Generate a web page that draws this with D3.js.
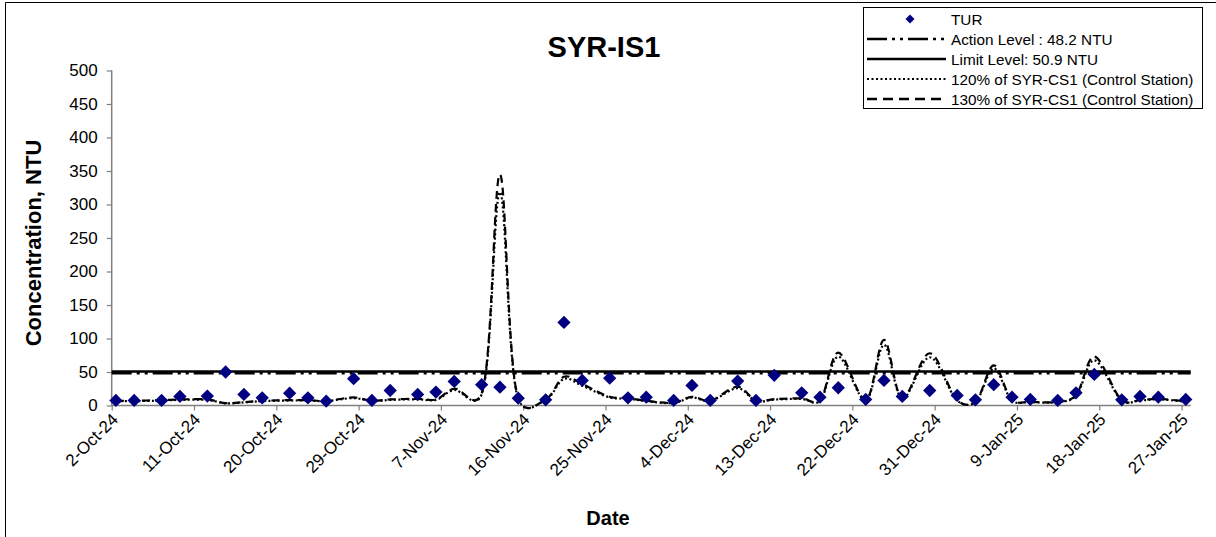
<!DOCTYPE html>
<html><head><meta charset="utf-8">
<script src="https://cdn.jsdelivr.net/npm/d3@7"></script>
<style>body{margin:0;background:#fff}svg{display:block}text{font-family:"Liberation Sans",Arial,sans-serif}</style>
</head><body><svg id="c" width="1216" height="537"></svg>
<script>
// ---- data ----
const sampleDates = [
 "2024-10-02","2024-10-04","2024-10-07","2024-10-09","2024-10-12","2024-10-14","2024-10-16","2024-10-18","2024-10-21","2024-10-23","2024-10-25","2024-10-28","2024-10-30",
 "2024-11-01","2024-11-04","2024-11-06","2024-11-08","2024-11-11","2024-11-13","2024-11-15","2024-11-18","2024-11-20","2024-11-22","2024-11-25","2024-11-27","2024-11-29",
 "2024-12-02","2024-12-04","2024-12-06","2024-12-09","2024-12-11","2024-12-13","2024-12-16","2024-12-18","2024-12-20","2024-12-23","2024-12-25","2024-12-27","2024-12-30",
 "2025-01-02","2025-01-04","2025-01-06","2025-01-08","2025-01-10","2025-01-13","2025-01-15","2025-01-17","2025-01-20","2025-01-22","2025-01-24","2025-01-27"];
const sampleTime = "11:00";
const turValues = [
 7.5,7.5,7.5,13.5,14,50,16.5,11.5,18.4,11.5,6.4,40,7.5,
 22.4,16.5,20,36,31,27.4,11,8.5,124,37.4,40.8,11.5,12.4,
 7.5,30,7.5,36.4,7.5,45,19,12.4,26.5,9,37.4,13.5,22.4,
 15,8.5,31,12.4,9,7.5,19,46.4,8.5,13.5,12.4,9];
const cs120Values = [
 6.5,6.5,7.4,8.3,8.3,3.2,4.6,6.5,7.4,7.4,6.5,11.1,6.5,
 8.3,9.2,8.3,23.1,16.6,318.5,10.2,8.3,39.7,29.5,12,10.2,6.5,
 3.7,12,6.5,25.8,6.5,8.8,9.7,6.9,72.9,7.4,90.5,10.2,72,
 7.4,5.1,55.4,7.4,5.1,5.1,14.3,67.4,7.4,7.4,9.2,5.5];
const cs130Values = [
 7,7,8,9,9,3.5,5,7,8,8,7,12,7,
 9,10,9,25,18,345,11,9,43,32,13,11,7,
 4,13,7,28,7,9.5,10.5,7.5,79,8,98,11,78,
 8,5.5,60,8,5.5,5.5,15.5,73,8,8,10,6];
const actionLevel = 48.2;
const limitLevel = 50.9;
const xTickLabels = ["2-Oct-24","11-Oct-24","20-Oct-24","29-Oct-24","7-Nov-24","16-Nov-24","25-Nov-24","4-Dec-24","13-Dec-24","22-Dec-24","31-Dec-24","9-Jan-25","18-Jan-25","27-Jan-25"];
const yTicks = [0,50,100,150,200,250,300,350,400,450,500];
const xDomain = ["2024-10-02","2025-01-28"];
const legendLabels = ["TUR","Action Level : 48.2 NTU","Limit Level: 50.9 NTU","120% of SYR-CS1 (Control Station)","130% of SYR-CS1 (Control Station)"];
const chartTitle = "SYR-IS1", xTitle = "Date", yTitle = "Concentration, NTU";

// ---- drawing ----
const svg = d3.select("#c");
const font = '"Liberation Sans", Arial, sans-serif';
const pDay = d3.timeParse("%Y-%m-%d");
const pDT = d3.timeParse("%Y-%m-%d %H:%M");
const pTick = d3.timeParse("%d-%b-%y");
const L = 111.7, R = 1190.7, T = 70.5, B = 405.5;
const x = d3.scaleTime().domain(xDomain.map(pDay)).range([L, R]);
const y = d3.scaleLinear().domain([0, 500]).range([B, T]);

// outer frame
svg.append("path").attr("d", `M5.5,540V2.5H1225`).attr("fill","none").attr("stroke","#000").attr("stroke-width",1);

const pts = sampleDates.map((d,i)=>({t:pDT(d+" "+sampleTime), tur:turValues[i], c120:cs120Values[i], c130:cs130Values[i]}));

// axes
const axisCol = "#7f7f7f";
const yAx = svg.append("g").attr("transform",`translate(${L},0)`)
  .call(d3.axisLeft(y).tickValues(yTicks).tickSize(5).tickPadding(9));
const xAx = svg.append("g").attr("transform",`translate(0,${B})`)
  .call(d3.axisBottom(x).tickValues(xTickLabels.map(pTick)).tickSize(5).tickFormat((d,i)=>xTickLabels[i]));
[yAx,xAx].forEach(g=>{
  g.select(".domain").attr("stroke",axisCol).attr("stroke-width",1.5);
  g.selectAll(".tick line").attr("stroke",axisCol).attr("stroke-width",1.2);
  g.selectAll("text").attr("font-family",font).attr("font-size",17).attr("fill","#000");
});
yAx.select(".domain").attr("d",`M0,${T}V${B}`);
xAx.select(".domain").attr("d",`M${L},0H${R}`);
xAx.selectAll(".tick text").attr("text-anchor","end").attr("dy",0).attr("y",0)
  .attr("transform","translate(7,15) rotate(-45)");

// horizontal level lines
const hline = (v, dash) => svg.append("line").attr("x1",L).attr("x2",R).attr("y1",y(v)).attr("y2",y(v))
  .attr("stroke","#000").attr("stroke-width",2.5).attr("stroke-dasharray",dash);
hline(limitLevel, null);
hline(actionLevel, "20,5,3,5,3,5");

// control station curves
const curve = d3.curveCatmullRom.alpha(0.2);
svg.append("path").datum(pts).attr("fill","none").attr("stroke","#000").attr("stroke-width",2.2)
  .attr("stroke-dasharray","2,2.5").attr("d", d3.line().x(d=>x(d.t)).y(d=>y(d.c120)).curve(curve));
svg.append("path").datum(pts).attr("fill","none").attr("stroke","#000").attr("stroke-width",2.2)
  .attr("stroke-dasharray","8,5").attr("d", d3.line().x(d=>x(d.t)).y(d=>y(d.c130)).curve(curve));

// TUR diamonds
const diamond = d3.symbol(d3.symbolSquare, 88)();
svg.append("g").selectAll("path").data(pts).join("path").attr("d",diamond)
  .attr("transform",d=>`translate(${x(d.t)},${y(d.tur)}) rotate(45)`).attr("fill","#000080");

// titles
svg.append("text").attr("x",604).attr("y",57).attr("text-anchor","middle").attr("font-size",29).attr("font-weight","bold").attr("font-family",font).text(chartTitle);
svg.append("text").attr("x",608).attr("y",525).attr("text-anchor","middle").attr("font-size",20).attr("font-weight","bold").attr("font-family",font).text(xTitle);
svg.append("text").attr("transform","translate(41,243) rotate(-90)").attr("text-anchor","middle").attr("font-size",22).attr("font-weight","bold").attr("font-family",font).text(yTitle);

// legend
const lg = svg.append("g");
lg.append("rect").attr("x",863.5).attr("y",7.5).attr("width",339).attr("height",101).attr("fill","#fff").attr("stroke","#000").attr("stroke-width",1);
const rowY = [19,39,59,79,99];
const dashes = [null,"20,5,3,5,3,5",null,"2,2.5","10,6"];
legendLabels.forEach((lab,i)=>{
  if(i===0){
    lg.append("path").attr("d",d3.symbol(d3.symbolSquare,40)()).attr("transform",`translate(910,${rowY[i]}) rotate(45)`).attr("fill","#000080");
  } else {
    lg.append("line").attr("x1",867).attr("x2",946).attr("y1",rowY[i]).attr("y2",rowY[i]).attr("stroke","#000")
      .attr("stroke-width",i===3?2:2.5).attr("stroke-dasharray",dashes[i]);
  }
  lg.append("text").attr("x",951).attr("y",rowY[i]).attr("dy","0.36em").attr("font-size",15.3).attr("font-family",font).text(lab);
});
</script></body></html>
